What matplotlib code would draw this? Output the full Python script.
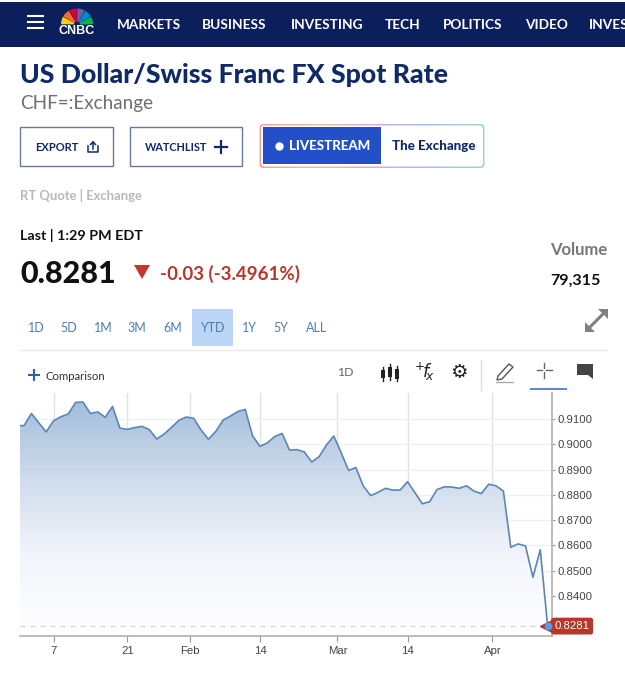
import numpy as np
import matplotlib
matplotlib.use('Agg')
import matplotlib.pyplot as plt
from matplotlib.colors import LinearSegmentedColormap
from matplotlib.patches import FancyBboxPatch, Rectangle, Wedge, Polygon, PathPatch
from matplotlib.path import Path

# USD/CHF closes by trading session, session 0 is the last one of the old year
rates = [
    0.9074, 0.9074, 0.9122, 0.9085, 0.9049, 0.9093, 0.9109, 0.9120, 0.9166, 0.9167,
    0.9122, 0.9128, 0.9107, 0.9150, 0.9064, 0.9059, 0.9066, 0.9071, 0.9058, 0.9021,
    0.9041, 0.9067, 0.9095, 0.9108, 0.9103, 0.9057, 0.9020, 0.9051, 0.9096, 0.9112,
    0.9130, 0.9138, 0.9033, 0.8992, 0.9006, 0.9031, 0.9043, 0.8977, 0.8979, 0.8970,
    0.8930, 0.8951, 0.8997, 0.9033, 0.8967, 0.8897, 0.8908, 0.8835, 0.8797, 0.8810,
    0.8826, 0.8819, 0.8819, 0.8852, 0.8809, 0.8765, 0.8773, 0.8821, 0.8832, 0.8831,
    0.8826, 0.8836, 0.8815, 0.8805, 0.8842, 0.8836, 0.8815, 0.8593, 0.8606, 0.8598,
    0.8474, 0.8583, 0.8281,
]
sessions = np.arange(len(rates))
x_ticks = [5, 15, 23.5, 33, 43.5, 53, 64.5]
x_labels = ['7', '21', 'Feb', '14', 'Mar', '14', 'Apr']
y_ticks = [0.84, 0.85, 0.86, 0.87, 0.88, 0.89, 0.90, 0.91]
last_rate = rates[-1]

nav_items = ['MARKETS', 'BUSINESS', 'INVESTING', 'TECH', 'POLITICS', 'VIDEO', 'INVES']
nav_x = [117, 202, 291, 385, 443, 525, 589]
ranges = ['1D', '5D', '1M', '3M', '6M', 'YTD', '1Y', '5Y', 'ALL']
ranges_x = [36, 69, 103, 137, 173, 212, 249, 281, 317]

NAVY = '#0a1f5c'
TITLE = '#0f2a66'
RED = '#b8372b'
LINE = '#5b86b5'
W, H = 625, 680
X_MIN, X_MAX = 0.454, 72.59
Y_MIN, Y_MAX = 0.8243, 0.9203

fig = plt.figure(figsize=(W / 100, H / 100), dpi=100, facecolor='white')

# page furniture is drawn in pixel coordinates on a full figure axes
page = fig.add_axes([0, 0, 1, 1])
page.set_xlim(0, W)
page.set_ylim(H, 0)
page.axis('off')


def label(x, y, s, size, color='black', weight='normal', ha='left', family='Lato'):
    # Lato sits about a pixel high when centred
    return page.text(x, y + 1, s, fontsize=size, color=color, fontweight=weight, ha=ha,
                     va='center', family=family, clip_on=True)


# nav bar
page.add_patch(Rectangle((0, 2), W, 45, color=NAVY, lw=0))
for y in (15.5, 22, 28):
    page.plot([28, 43], [y, y], color='white', lw=1.5)
feathers = ['#fccc12', '#f37021', '#cc004c', '#6460aa', '#0089d0', '#0db14b']
for i, c in enumerate(feathers):
    page.add_patch(Wedge((77, 24.5), 16, -180 + i * 30 + 1, -150 + i * 30 - 1, width=13, color=c, lw=0))
label(76.5, 30.5, 'CNBC', 9, 'white', 'bold', 'center', 'Liberation Sans')
for x, s in zip(nav_x, nav_items):
    label(x, 24, s, 9.8, 'white', 'bold')

# heading
label(20, 74, 'US Dollar/Swiss Franc FX Spot Rate', 19.2, TITLE, 'black')
label(20, 102, 'CHF=:Exchange', 13.6, '#6f6f6f')

# buttons
for x0, x1 in ((20, 113), (130, 242)):
    page.add_patch(Rectangle((x0, 127), x1 - x0, 39, fill=False, ec='#6a7899', lw=1))
label(35, 146.5, 'EXPORT', 8, TITLE, 'bold')
page.plot([88, 88, 98, 98], [146, 152, 152, 146], color=TITLE, lw=1.1)
page.plot([93, 93], [149, 142], color=TITLE, lw=1.1)
page.plot([90.5, 93, 95.5], [144.5, 142, 144.5], color=TITLE, lw=1.1)
label(145, 146.5, 'WATCHLIST', 7.8, TITLE, 'bold')
page.plot([215, 227], [147, 147], color=TITLE, lw=1.6)
page.plot([221, 221], [141, 153], color=TITLE, lw=1.6)

# livestream pill with the rainbow border
rainbow = LinearSegmentedColormap.from_list(
    'pill', ['#f4a0a0', '#f5c08a', '#d9a8e0', '#a8c0f0', '#9fd8c0'])
grad = page.imshow(np.linspace(0, 1, 200).reshape(1, -1), cmap=rainbow, aspect='auto',
                   extent=(259, 485, 168.5, 123.5), zorder=1)
outer = FancyBboxPatch((261, 125.5), 222, 41, boxstyle='round,pad=0,rounding_size=3',
                       fc='none', ec='none', transform=page.transData)
page.add_patch(outer)
grad.set_clip_path(outer)
outer.set_boxstyle('round,pad=1.5,rounding_size=4')
page.add_patch(FancyBboxPatch((261, 125.5), 222, 41, boxstyle='round,pad=0,rounding_size=3',
                              fc='white', ec='none', zorder=2))
page.add_patch(Rectangle((263, 127), 118, 37, color='#2350c8', lw=0, zorder=3))
page.plot(279, 146, 'o', color='white', ms=5, zorder=4)
label(289, 145, 'LIVESTREAM', 9.5, 'white', 'black').set_zorder(4)
label(392, 145, 'The Exchange', 9.6, TITLE, 'black').set_zorder(4)
label(20, 194, 'RT Quote | Exchange', 9.4, '#b9b9b9', 'bold')

# quote block
label(20, 234.5, 'Last | 1:29 PM EDT', 10.4, '#111111', 'bold')
label(20, 273, f'{last_rate:.4f}', 22, '#111111', 'black')
page.add_patch(Polygon([(134, 265), (150, 265), (142, 279)], color='#c0392b', lw=0))
label(160, 273, '-0.03 (-3.4961%)', 13.5, RED, 'bold')
label(550, 249, 'Volume', 12, '#777777', 'bold')
label(550, 280, '79,315', 11.6, '#111111', 'bold')

# range selector
page.add_patch(Rectangle((192, 309), 41, 37, color='#bcd5f7', lw=0))
for x, s in zip(ranges_x, ranges):
    label(x, 327.5, s, 9, '#4c7db3', ha='center')
page.plot([589, 604], [328, 313], color='#808080', lw=2.2)
page.add_patch(Polygon([(585, 332), (585, 322), (595, 332)], color='#808080', lw=0))
page.add_patch(Polygon([(608, 309), (598, 309), (608, 319)], color='#808080', lw=0))
page.plot([20, 607], [350, 350], color='#e9e9e9', lw=1)

# chart toolbar
page.plot([29, 39], [375, 375], color='#2f5fb5', lw=1.5)
page.plot([34, 34], [370, 380], color='#2f5fb5', lw=1.5)
label(45, 375.5, 'Comparison', 8.2, '#333333')
label(345, 372, '1D', 8.8, '#666666', ha='center')
for x, lo, hi, top, bot in ((383, 367, 381, 370, 378), (390, 364, 380, 367, 377), (397, 366, 381, 369, 379)):
    page.plot([x, x], [lo, hi], color='#222222', lw=1)
    page.add_patch(Rectangle((x - 2, top), 4, bot - top, color='#222222', lw=0))
label(424, 371, r'$^{+}\!f\!_{x}$', 12.5, '#222222', ha='center', family='DejaVu Serif')
page.text(459, 372.5, '\u2699', fontsize=14, color='#222222', ha='center', va='center', family='DejaVu Sans')
page.plot([481, 481], [360, 390], color='#dddddd', lw=1)
page.add_patch(Polygon([(498, 376), (509, 364), (513, 367), (502, 379), (497, 380)], fill=False, ec='#555555', lw=1))
page.plot([496, 513], [382, 382], color='#aaaaaa', lw=1)
for xs, ys in (([537, 542], [370, 370]), ([546, 552], [370, 370]), ([544, 544], [363, 368]), ([544, 544], [372, 378])):
    page.plot(xs, ys, color='#666666', lw=1)
page.add_patch(Rectangle((530, 387.5), 37, 2.2, color='#5b87dc', lw=0))
page.add_patch(Polygon([(577, 364), (593, 364), (593, 379), (588, 375), (577, 375)], color='#444444', lw=0))

# price chart
ax = fig.add_axes([20 / W, 1 - 635.7 / H, (552 - 20) / W, (635.7 - 393) / H])
ax.patch.set_alpha(0)

area = ax.fill_between(sessions, rates, Y_MIN, color='none', lw=0)
fade = LinearSegmentedColormap.from_list('fade', ['#ffffff', '#f3f5fb', '#cfdcec', '#a3bddb'])
img = ax.imshow(np.linspace(1, 0, 256).reshape(-1, 1), cmap=fade, aspect='auto', zorder=1,
                extent=(X_MIN, X_MAX, Y_MIN, 0.9175))
img.set_clip_path(PathPatch(Path.make_compound_path(*area.get_paths()), transform=ax.transData))
ax.set_xlim(X_MIN, X_MAX)
ax.set_ylim(Y_MIN, Y_MAX)

ax.plot(sessions, rates, color=LINE, lw=1.2, zorder=3)
ax.axhline(last_rate, color='#d6d6d6', lw=0.9, ls=(0, (4, 4)), zorder=2)
ax.grid(True, color='#f0f0f0', lw=1, zorder=0)
ax.xaxis.grid(True, color='#e2e2e2')
ax.set_axisbelow(True)

ax.set_xticks(x_ticks, x_labels)
ax.set_yticks(y_ticks, [f'{v:.4f}' for v in y_ticks])
ax.yaxis.tick_right()
ax.tick_params(axis='y', length=2.5, width=0.8, color='#999999', labelcolor='#444444', labelsize=8.2, pad=1.5)
ax.tick_params(axis='x', length=4, width=0.8, color='#999999', labelcolor='#444444', labelsize=8.2, pad=3.5)
for tick in ax.get_xticklabels() + ax.get_yticklabels():
    tick.set_family('Liberation Sans')
for side in ('top', 'left'):
    ax.spines[side].set_visible(False)
ax.spines['right'].set_color('#bdbdbd')
ax.spines['right'].set_linewidth(1.5)
ax.spines['bottom'].set_color('#b0b0b0')
ax.spines['bottom'].set_linewidth(1.2)

# last price flag sticks out past the axis
ax.annotate(f'{last_rate:.4f}', (sessions[-1], last_rate), xytext=(7, 0), textcoords='offset pixels',
            color='white', fontsize=8.2, family='Liberation Sans', va='center', ha='left', zorder=6,
            bbox=dict(boxstyle='round,pad=0.3,rounding_size=0.2', fc=RED, ec='none'))
ax.plot(sessions[-1] - 0.2, last_rate, marker='<', color=RED, ms=8, zorder=5, clip_on=False)
ax.plot(sessions[-1], last_rate, 'o', color='#4aa3ea', ms=4.5, zorder=7, clip_on=False)

fig.savefig('out.png', dpi=100)
plt.close(fig)
